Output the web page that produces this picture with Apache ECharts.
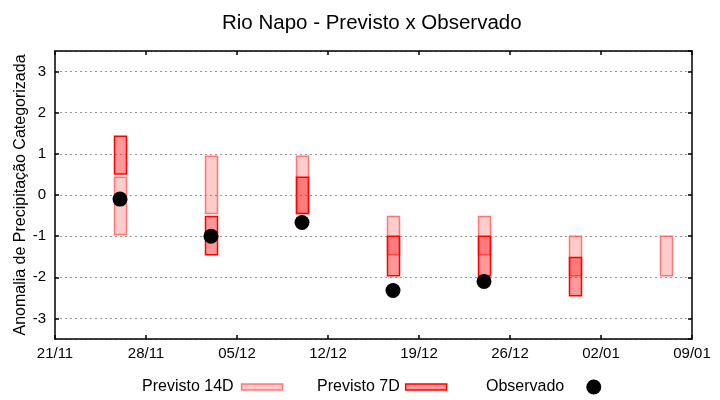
<!DOCTYPE html>
<html>
<head>
<meta charset="utf-8">
<script src="https://cdn.jsdelivr.net/npm/echarts@6/dist/echarts.min.js"></script>
<style>html,body{margin:0;padding:0;background:#fff}#c{width:720px;height:400px}</style>
</head>
<body>
<div id="c"></div>
<script>
// ---- data ----
var baseDate = '2024-11-21';
var endDate = '2025-01-09';
var dates = ['2024-11-26', '2024-12-03', '2024-12-10', '2024-12-17', '2024-12-24', '2024-12-31', '2025-01-07'];
var p14Low  = [-0.96, -0.45, -0.45, -1.45, -1.45, -1.96, -1.96];
var p14High = [0.43, 0.94, 0.94, -0.52, -0.52, -1.00, -1.00];
var p7Low   = [0.51, -1.45, -0.45, -1.96, -1.96, -2.45, null];
var p7High  = [1.43, -0.52, 0.43, -1.00, -1.00, -1.52, null];
var observed = [-0.10, -1.00, -0.67, -2.32, -2.10, null, null];
var yTicks = [-3, -2, -1, 0, 1, 2, 3];

var DAY = 86400000;
function dayOf(s) { return Math.round((Date.parse(s + 'T00:00:00Z') - Date.parse(baseDate + 'T00:00:00Z')) / DAY); }
function labelOf(d) {
  var t = new Date(Date.parse(baseDate + 'T00:00:00Z') + d * DAY);
  var dd = ('0' + t.getUTCDate()).slice(-2), mm = ('0' + (t.getUTCMonth() + 1)).slice(-2);
  return dd + '/' + mm;
}
var xMax = dayOf(endDate);
var xs = dates.map(dayOf);

function rangeData(lo, hi) {
  var out = [];
  for (var i = 0; i < xs.length; i++) if (lo[i] != null && hi[i] != null) out.push([xs[i], lo[i], hi[i]]);
  return out;
}
var obsData = [];
for (var i = 0; i < xs.length; i++) if (observed[i] != null) obsData.push([xs[i], observed[i]]);

function makeRender(fill, stroke) {
  return function (params, api) {
    var x = api.value(0), lo = api.value(1), hi = api.value(2);
    var p1 = api.coord([x, hi]), p2 = api.coord([x, lo]);
    var w = api.size([1, 0])[0] * 0.92;
    return {
      type: 'rect',
      shape: { x: Math.round(p1[0] - w / 2) + 0.5, y: p1[1], width: Math.round(w), height: p2[1] - p1[1] },
      style: { fill: fill, stroke: stroke, lineWidth: 1.5 }
    };
  };
}

var FONT = 'Liberation Sans, Arial, sans-serif';
var c14Fill = 'rgba(255,0,0,0.2)', c14Stroke = 'rgba(255,80,80,0.75)';
var c7Fill = 'rgba(255,0,0,0.4)', c7Stroke = '#ff0000';

var chart = echarts.init(document.getElementById('c'), null, { renderer: 'canvas' });
var legendText = { fontFamily: FONT, fontSize: 16, color: '#000', lineHeight: 16 };
chart.setOption({
  animation: false,
  backgroundColor: '#fff',
  title: {
    text: 'Rio Napo - Previsto x Observado', left: 217, top: 8,
    textStyle: { fontFamily: FONT, fontSize: 20.5, fontWeight: 'normal', color: '#000' }
  },
  legend: [
    { left: 142, top: 379, padding: 0, align: 'right', itemWidth: 41, itemHeight: 6,
      textStyle: Object.assign({ padding: [0, 3, 0, 0] }, legendText),
      data: [{ name: 'Previsto 14D', icon: 'rect', itemStyle: { color: c14Fill, borderColor: c14Stroke, borderWidth: 1.5 } }] },
    { left: 317, top: 379, padding: 0, align: 'right', itemWidth: 41, itemHeight: 6,
      textStyle: Object.assign({ padding: [0, 1, 0, 0] }, legendText),
      data: [{ name: 'Previsto 7D', icon: 'rect', itemStyle: { color: c7Fill, borderColor: c7Stroke, borderWidth: 1.5 } }] },
    { left: 486, top: 379, padding: 0, align: 'right', itemWidth: 15, itemHeight: 15,
      textStyle: Object.assign({ padding: [0, 17, 0, 0] }, legendText),
      data: [{ name: 'Observado', icon: 'circle', itemStyle: { color: '#000' } }] }
  ],
  grid: { left: 55, right: 28, top: 51, bottom: 61, show: false },
  xAxis: [
    { type: 'value', min: 0, max: xMax, interval: 7, position: 'bottom',
      axisLine: { show: true, onZero: false, lineStyle: { color: '#000', width: 1.5 } },
      axisTick: { show: true, inside: true, length: 4, lineStyle: { color: '#000', width: 1.5 } },
      axisLabel: { formatter: function (v) { return labelOf(v); }, fontFamily: FONT, fontSize: 15, color: '#000', margin: 7 },
      splitLine: { show: false } },
    { type: 'value', min: 0, max: xMax, interval: 7, position: 'top',
      axisLine: { show: true, onZero: false, lineStyle: { color: '#000', width: 1.5 } },
      axisTick: { show: true, inside: true, length: 4, lineStyle: { color: '#000', width: 1.5 } },
      axisLabel: { show: false }, splitLine: { show: false } }
  ],
  yAxis: [
    { type: 'value', min: -3.5, max: 3.5, splitNumber: 7, position: 'left',
      name: 'Anomalia de Precipitação Categorizada', nameLocation: 'middle', nameGap: 26, nameRotate: 90,
      nameMoveOverlap: false,
      nameTextStyle: { fontFamily: FONT, fontSize: 16, color: '#000' },
      axisLine: { show: true, onZero: false, lineStyle: { color: '#000', width: 1.5 } },
      axisTick: { show: true, inside: true, length: 4, lineStyle: { color: '#000', width: 1.5 } },
      axisLabel: { showMinLabel: false, showMaxLabel: false,
        formatter: function (v) { return yTicks.indexOf(v) >= 0 ? String(v) : ''; },
        fontFamily: FONT, fontSize: 15, color: '#000', margin: 9 },
      splitLine: { show: true, lineStyle: { color: '#999', type: [2, 3], width: 1 } } },
    { type: 'value', min: -3.5, max: 3.5, splitNumber: 7, position: 'right',
      axisLine: { show: true, onZero: false, lineStyle: { color: '#000', width: 1.5 } },
      axisTick: { show: true, inside: true, length: 4, lineStyle: { color: '#000', width: 1.5 } },
      axisLabel: { show: false }, splitLine: { show: false } }
  ],
  series: [
    { name: 'Previsto 14D', type: 'custom', xAxisIndex: 0, yAxisIndex: 0,
      renderItem: makeRender(c14Fill, c14Stroke), encode: { x: 0, y: [1, 2] },
      data: rangeData(p14Low, p14High), z: 2 },
    { name: 'Previsto 7D', type: 'custom', xAxisIndex: 0, yAxisIndex: 0,
      renderItem: makeRender(c7Fill, c7Stroke), encode: { x: 0, y: [1, 2] },
      data: rangeData(p7Low, p7High), z: 3 },
    { name: 'Observado', type: 'scatter', xAxisIndex: 0, yAxisIndex: 0, symbol: 'circle', symbolSize: 15,
      itemStyle: { color: '#000', opacity: 1 }, data: obsData, z: 4 }
  ]
});
</script>
</body>
</html>
